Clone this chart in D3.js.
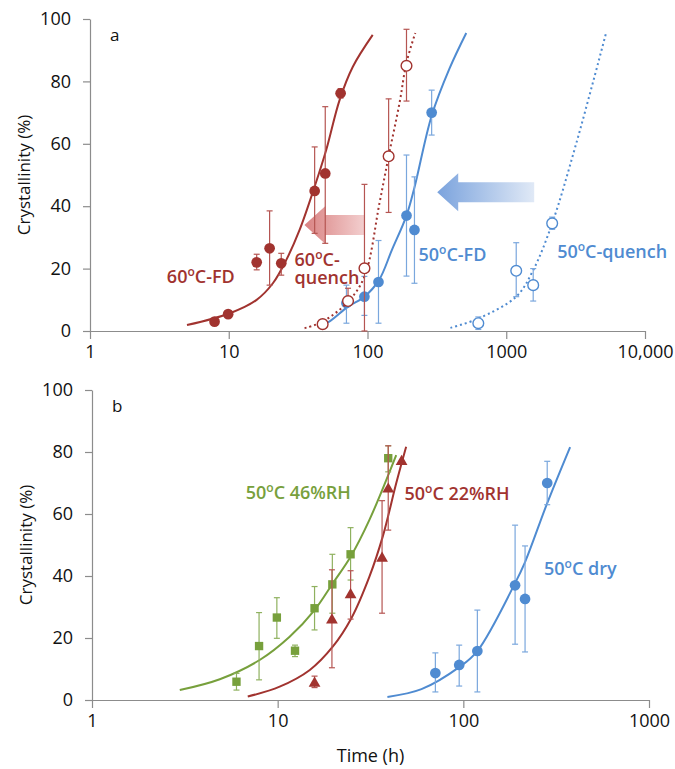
<!DOCTYPE html>
<html lang="en">
<head>
<meta charset="utf-8">
<title>Crystallinity vs time</title>
<style>
  body { margin: 0; background: #fff; }
  svg text { font-family: "Open Sans", "DejaVu Sans", sans-serif; }
  .axis path, .axis line { stroke: #8c8c8c; stroke-width: 1.2px; }
  .axis text { font-size: 18px; fill: #111; }
</style>
</head>
<body>
<div id="chart"></div>
<script src="https://cdn.jsdelivr.net/npm/d3@7"></script>
<script>
// ---- panel a data: [time (h), crystallinity (%), error low, error high]
var fd60Points = [[7.9, 3], [9.9, 5.4], [15.9, 22, 19.6, 24.6], [19.7, 26.5, 14.7, 38.5], [23.9, 21.7, 17.9, 24.9],
                  [41.6, 44.9, 31.3, 59], [49.6, 50.5, 28.1, 71.9], [64, 76.2, 74.7, 77.7]];
var fd60Curve = [[5, 1.9], [10.2, 5.7], [15.8, 9.9], [20.8, 15.3], [26, 22.8], [32.4, 32.4], [41.6, 46.3],
                 [50.4, 58], [62.9, 74], [78.4, 84.7], [109, 94.9]];
var q60Points = [[47.5, 2.2, 0.8, 3.6], [72.4, 9.6, 8.3, 13.7], [95.1, 20.1, 0, 47], [142, 56, 38, 74.4], [191, 85, 73.7, 96.7]];
var q60Curve = [[35.2, 0.9], [47.5, 3], [72.4, 9.4], [95, 17.4], [122, 41], [142, 56], [170, 73], [191, 86], [221, 95.5]];
var fd50Points = [[70.5, 9, 2.5, 14.7], [95, 11, 5, 17.5], [120, 15.7, 2.5, 29], [191, 37, 17.6, 56.4],
                  [218, 32.4, 15.3, 49.4], [290, 70, 62.8, 77.2]];
var fd50Curve = [[43.9, 1.3], [53, 3], [72.4, 7.8], [95, 11], [121, 16.3], [150, 26], [191, 37], [218, 46],
                 [290, 69], [389, 84], [515, 95.5]];
var q50Points = [[629, 2.5, 0.5, 4.5], [1180, 19.3, 11, 28.3], [1564, 14.7, 9.6, 20], [2143, 34.5, 32.6, 36.5]];
var q50Curve = [[396, 1], [629, 4], [1180, 11], [1564, 19.5], [2143, 34.5], [3190, 60], [5240, 95.5]];

// ---- panel b data
var rh46Points = [[6, 5.9, 3.2, 8.6], [7.94, 17.4, 6.5, 28.2], [9.9, 26.6, 19.9, 33], [12.4, 15.9, 14, 17.7],
                  [15.8, 29.6, 22.6, 36.6], [19.7, 37.3, 28, 47], [24.7, 47, 38.7, 55.6], [39.4, 78, 73.6, 82]];
var rh46Curve = [[2.97, 3.2], [4.88, 6.7], [8, 12.9], [11.6, 20.4], [15.8, 29], [19.8, 37.6], [24.7, 46.2],
                 [31.2, 58.1], [43.5, 79]];
var rh22Points = [[15.8, 5.4, 4, 7.7], [19.6, 25.8, 10.4, 42], [24.7, 33.9, 26.1, 41.7], [36.5, 45.7, 28, 64.3],
                  [39.4, 68, 54.8, 82], [46.5, 76.9]];
var rh22Curve = [[6.9, 1.1], [10.25, 4.3], [14.9, 9.7], [19.8, 17.2], [24.9, 26.3], [31.2, 39.8], [36.8, 52.7],
                 [43.5, 69.9], [49.2, 81.7]];
var dryPoints = [[70.7, 8.7, 2.6, 15.2], [95, 11.3, 4.5, 17.7], [119, 15.8, 2.6, 29], [190, 37, 18, 56.4],
                 [215, 32.6, 15.5, 49.7], [283, 70, 63, 77]];
var dryCurve = [[39, 1], [59.5, 3.5], [95, 10.6], [119, 15.8], [190, 37.7], [215, 44.5], [283, 63.5], [376, 81.6]];

var ticksA = [1, 10, 100, 1000, 10000];
var ticksB = [1, 10, 100, 1000];
var yTicks = [0, 20, 40, 60, 80, 100];

var red = "#a1332f", blue = "#4f8bd1", green = "#77a03c";

var width = 675, height = 769;
var svg = d3.select("#chart").append("svg")
    .attr("width", width)
    .attr("height", height);

var defs = svg.append("defs");
function gradient(id, c1, c2) {
  var g = defs.append("linearGradient").attr("id", id)
      .attr("x1", "0%").attr("x2", "100%").attr("y1", "0%").attr("y2", "0%");
  g.append("stop").attr("offset", "0%").attr("stop-color", c1);
  g.append("stop").attr("offset", "100%").attr("stop-color", c2);
}
gradient("gRed", "#d98282", "#f3cfcf");
gradient("gBlue", "#7ba3dd", "#e0e9f6");

function panel(opts) {
  var x = d3.scaleLog().domain([1, opts.xmax]).range([opts.left, opts.right]);
  var y = d3.scaleLinear().domain([0, 100]).range([opts.bottom, opts.top]);
  var g = svg.append("g");

  g.append("g").attr("class", "axis")
      .attr("transform", "translate(0," + opts.bottom + ")")
      .call(d3.axisBottom(x).tickValues(opts.ticks).tickSizeInner(8).tickSizeOuter(0).tickPadding(6)
        .tickFormat(function (d) { return d >= 10000 ? d3.format(",")(d) : d; }));
  g.append("g").attr("class", "axis")
      .attr("transform", "translate(" + opts.left + ",0)")
      .call(d3.axisLeft(y).tickValues(yTicks).tickSizeInner(7).tickSizeOuter(0).tickPadding(12));

  g.append("text")
      .attr("transform", "translate(" + (opts.left - 60) + "," + ((opts.top + opts.bottom) / 2) + ") rotate(-90)")
      .attr("text-anchor", "middle")
      .style("font-size", "17px").attr("fill", "#111")
      .text("Crystallinity (%)");

  g.append("text").attr("x", opts.left + 20).attr("y", opts.top + 22)
      .style("font-size", "17px").attr("fill", "#111").text(opts.letter);

  var line = d3.line()
      .x(function (d) { return x(d[0]); })
      .y(function (d) { return y(d[1]); })
      .curve(d3.curveCatmullRom.alpha(0.5));

  return { x: x, y: y, g: g, line: line };
}

function series(p, s) {
  p.g.append("path").datum(s.curve)
      .attr("d", p.line)
      .attr("fill", "none")
      .attr("stroke", s.color)
      .attr("stroke-width", 2)
      .attr("stroke-dasharray", s.dotted ? "2,3" : null);

  var eb = p.g.append("g").attr("stroke", s.errColor || s.color).attr("stroke-width", 1.2);
  s.points.filter(function (d) { return d.length > 2; }).forEach(function (d) {
    var cx = p.x(d[0]);
    eb.append("line").attr("x1", cx).attr("x2", cx).attr("y1", p.y(d[2])).attr("y2", p.y(d[3]));
    [d[2], d[3]].forEach(function (v) {
      eb.append("line").attr("x1", cx - 3).attr("x2", cx + 3).attr("y1", p.y(v)).attr("y2", p.y(v));
    });
  });

  var type = s.shape === "square" ? d3.symbolSquare : s.shape === "triangle" ? d3.symbolTriangle : d3.symbolCircle;
  var size = s.shape === "square" ? 70 : s.shape === "triangle" ? 60 : 90;
  p.g.append("g").selectAll("path").data(s.points).enter().append("path")
      .attr("transform", function (d) { return "translate(" + p.x(d[0]) + "," + p.y(d[1]) + ")"; })
      .attr("d", d3.symbol().type(type).size(size))
      .attr("fill", s.open ? "#fff" : s.color)
      .attr("stroke", s.color)
      .attr("stroke-width", s.open ? 1.4 : 0);
}

function arrow(p, from, to, fill) {
  var x0 = p.x(from[0]), x1 = p.x(to[0]), yc = p.y(from[1]);
  var bh = 10, hh = 19, hl = 21;
  var pts = [[x0, yc - bh], [x1 + hl, yc - bh], [x1 + hl, yc - hh], [x1, yc], [x1 + hl, yc + hh], [x1 + hl, yc + bh], [x0, yc + bh]];
  p.g.append("path").attr("d", "M" + pts.join("L") + "Z").attr("fill", fill);
}

// text like "60oC-FD" with a raised small "o"
function label(p, xv, yv, pre, post, color) {
  var t = p.g.append("text").attr("x", p.x(xv)).attr("y", p.y(yv))
      .style("font-size", "18px").style("font-weight", 600).attr("fill", color);
  t.append("tspan").text(pre);
  if (post !== null) {
    t.append("tspan").attr("dy", -7).style("font-size", "12px").text("o");
    t.append("tspan").attr("dy", 7).text(post);
  }
}

// ---- panel a
var pa = panel({ left: 90, right: 645, top: 19, bottom: 331, xmax: 10000, ticks: ticksA, letter: "a" });
arrow(pa, [95.5, 34], [35.1, 34], "url(#gRed)");
arrow(pa, [1590, 44.5], [318, 44.5], "url(#gBlue)");
series(pa, { points: fd50Points, curve: fd50Curve, color: blue, errColor: "#7aa7dd", shape: "circle" });
series(pa, { points: q50Points, curve: q50Curve, color: blue, errColor: "#7aa7dd", shape: "circle", open: true, dotted: true });
series(pa, { points: fd60Points, curve: fd60Curve, color: red, errColor: "#b55552", shape: "circle" });
series(pa, { points: q60Points, curve: q60Curve, color: red, errColor: "#b55552", shape: "circle", open: true, dotted: true });

label(pa, 3.58, 15.4, "60", "C-FD", red);
label(pa, 29.8, 20.8, "60", "C-", red);
label(pa, 29.8, 15.1, "quench", null, red);
label(pa, 233, 22.4, "50", "C-FD", blue);
label(pa, 2328, 23.4, "50", "C-quench", blue);

// ---- panel b
var pb = panel({ left: 92, right: 649, top: 390, bottom: 700, xmax: 1000, ticks: ticksB, letter: "b" });
series(pb, { points: dryPoints, curve: dryCurve, color: blue, errColor: "#7aa7dd", shape: "circle" });
series(pb, { points: rh46Points, curve: rh46Curve, color: green, errColor: "#8fb15f", shape: "square" });
series(pb, { points: rh22Points, curve: rh22Curve, color: red, errColor: "#b55552", shape: "triangle" });

label(pb, 6.73, 64.8, "50", "C 46%RH", green);
label(pb, 48.2, 64.5, "50", "C 22%RH", red);
label(pb, 272, 40.3, "50", "C dry", blue);

svg.append("text").attr("x", pb.x(Math.sqrt(1000))).attr("y", 762)
    .attr("text-anchor", "middle").style("font-size", "18px").attr("fill", "#111")
    .text("Time (h)");
</script>
</body>
</html>
